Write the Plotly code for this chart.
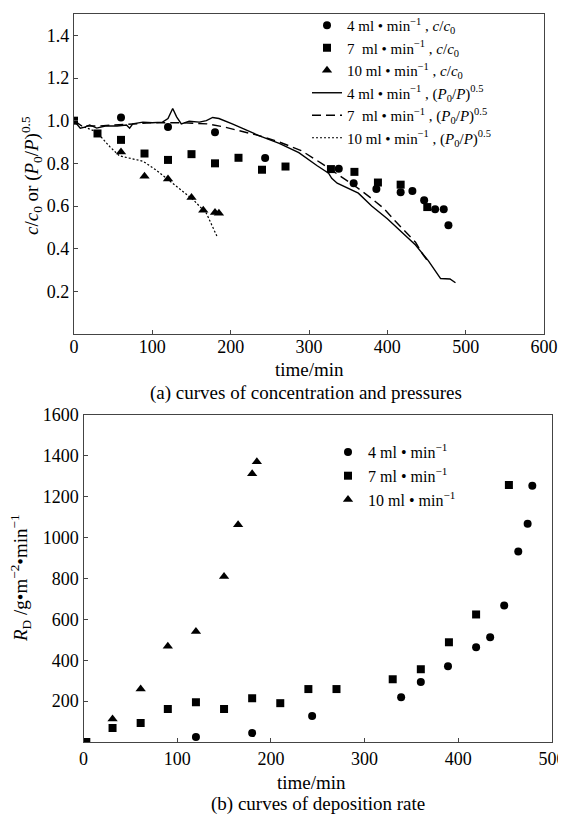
import plotly.graph_objects as go

# ---------------- Panel (a) data ----------------
t_c4 = [60, 120, 180, 244, 338, 357, 386, 417, 432, 447, 461, 472, 478]
c4 = [1.015, 0.97, 0.946, 0.825, 0.775, 0.707, 0.68, 0.665, 0.67, 0.627, 0.585, 0.585, 0.51]

t_c7 = [0, 30, 60, 90, 120, 150, 180, 210, 240, 270, 328, 358, 388, 417, 451]
c7 = [1.0, 0.94, 0.91, 0.846, 0.816, 0.843, 0.80, 0.826, 0.77, 0.785, 0.773, 0.76, 0.71, 0.70, 0.595]

t_c10 = [60, 90, 120, 150, 165, 180, 185]
c10 = [0.853, 0.74, 0.726, 0.64, 0.58, 0.57, 0.566]

t_p4 = [0, 4, 8, 14, 20, 29, 40, 55, 67, 71, 75, 88, 100, 113, 120, 126, 131, 137, 147,
        160, 169, 177, 185, 202, 224, 236, 262, 287, 310, 325, 329, 336, 363, 380, 400,
        420, 436, 452, 468, 480, 487]
p4 = [1.0, 0.98, 0.965, 0.97, 0.98, 0.965, 0.975, 0.975, 0.98, 0.965, 0.985, 0.993, 0.99,
      0.993, 1.01, 1.057, 1.018, 0.985, 0.997, 0.993, 1.0, 1.015, 1.01, 0.985, 0.947, 0.93,
      0.894, 0.85, 0.79, 0.754, 0.73, 0.707, 0.66, 0.60, 0.54, 0.47, 0.417, 0.345, 0.26,
      0.258, 0.24]

t_p7 = [0, 10, 30, 60, 100, 140, 170, 190, 210, 236, 262, 290, 316, 340, 360, 380, 395,
        410, 425, 436, 445, 452]
p7 = [1.0, 0.975, 0.975, 0.98, 0.99, 0.99, 0.985, 0.972, 0.955, 0.93, 0.90, 0.86, 0.80,
      0.74, 0.69, 0.635, 0.59, 0.53, 0.47, 0.43, 0.375, 0.34]

t_p10 = [0, 10, 29, 46, 58, 75, 88, 105, 118, 131, 152, 169, 177, 183]
p10 = [1.0, 0.975, 0.947, 0.877, 0.835, 0.82, 0.81, 0.768, 0.73, 0.69, 0.63, 0.566, 0.50, 0.454]

# ---------------- Panel (b) data ----------------
t_r4 = [120, 180, 244, 339, 360, 389, 419, 434, 449, 464, 474, 479]
r4 = [24, 44, 127, 219, 293, 371, 463, 512, 668, 932, 1068, 1254]

t_r7 = [3, 31, 61, 90, 120, 150, 180, 210, 240, 270, 330, 360, 390, 419, 454]
r7 = [0, 68, 93, 161, 195, 161, 214, 190, 259, 259, 307, 356, 488, 624, 1258]

t_r10 = [31, 61, 90, 120, 150, 165, 180, 185]
r10 = [112, 259, 468, 541, 810, 1063, 1312, 1371]

# tick values
xa_ticks = [0, 100, 200, 300, 400, 500, 600]
ya_ticks = [0.2, 0.4, 0.6, 0.8, 1.0, 1.2, 1.4]
xb_ticks = [0, 100, 200, 300, 400, 500]
yb_ticks = [200, 400, 600, 800, 1000, 1200, 1400, 1600]

FONT = "Liberation Serif"
# the page body has an 8px margin; the figure is sized to fill the rest of the window
OFF = 8
W, H = 566 - OFF, 815 - OFF

def px_x(p):
    return (p - OFF) / W

def px_y(p):
    return 1 - (p - OFF) / H

lab4 = "4 ml \u2022 min<sup>\u22121</sup> , "
lab7 = "7  ml \u2022 min<sup>\u22121</sup> , "
lab10 = "10 ml \u2022 min<sup>\u22121</sup> , "
cc0 = "<i>c</i>/<i>c</i><sub>0</sub>"
pp = "(<i>P</i><sub>0</sub>/<i>P</i>)<sup>0.5</sup>"

fig = go.Figure()
mk = dict(color="black", size=8)

fig.add_trace(go.Scatter(x=t_c4, y=c4, mode="markers", name=lab4 + cc0,
                         marker=dict(symbol="circle", **mk), xaxis="x", yaxis="y", legend="legend"))
fig.add_trace(go.Scatter(x=t_c7, y=c7, mode="markers", name=lab7 + cc0,
                         marker=dict(symbol="square", **mk), xaxis="x", yaxis="y", legend="legend"))
fig.add_trace(go.Scatter(x=t_c10, y=c10, mode="markers", name=lab10 + cc0,
                         marker=dict(symbol="triangle-up", color="black", size=9),
                         xaxis="x", yaxis="y", legend="legend"))
fig.add_trace(go.Scatter(x=t_p4, y=p4, mode="lines", name=lab4 + pp,
                         line=dict(color="black", width=1.4), xaxis="x", yaxis="y", legend="legend"))
fig.add_trace(go.Scatter(x=t_p7, y=p7, mode="lines", name=lab7 + pp,
                         line=dict(color="black", width=1.4, dash="9px,5px"),
                         xaxis="x", yaxis="y", legend="legend"))
fig.add_trace(go.Scatter(x=t_p10, y=p10, mode="lines", name=lab10 + pp,
                         line=dict(color="black", width=1.2, dash="2px,2px"),
                         xaxis="x", yaxis="y", legend="legend"))

fig.add_trace(go.Scatter(x=t_r4, y=r4, mode="markers", name="4 ml \u2022 min<sup>\u22121</sup>",
                         marker=dict(symbol="circle", **mk), xaxis="x2", yaxis="y2", legend="legend2"))
fig.add_trace(go.Scatter(x=t_r7, y=r7, mode="markers", name="7 ml \u2022 min<sup>\u22121</sup>",
                         marker=dict(symbol="square", **mk), xaxis="x2", yaxis="y2", legend="legend2"))
fig.add_trace(go.Scatter(x=t_r10, y=r10, mode="markers", name="10 ml \u2022 min<sup>\u22121</sup>",
                         marker=dict(symbol="triangle-up", color="black", size=9),
                         xaxis="x2", yaxis="y2", legend="legend2"))

axis_common = dict(showline=True, linecolor="#444", linewidth=1.2, mirror=True,
                   ticks="inside", ticklen=4, tickcolor="#444", showgrid=False,
                   zeroline=False, automargin=False,
                   tickfont=dict(family=FONT, size=18, color="black"))

def ann(text, x, y, size=19, angle=0):
    return dict(text=text, x=px_x(x), y=px_y(y), xref="paper", yref="paper",
                showarrow=False, xanchor="center", yanchor="middle", textangle=angle,
                font=dict(family=FONT, size=size, color="black"))

fig.update_layout(
    width=W, height=H, autosize=False,
    margin=dict(l=0, r=0, t=0, b=0, autoexpand=False),
    paper_bgcolor="white", plot_bgcolor="white",
    font=dict(family=FONT, color="black"),
    xaxis=dict(domain=[px_x(74), px_x(544)], range=[0, 600], tickvals=xa_ticks,
               anchor="y", ticklabelstandoff=-4, **axis_common),
    yaxis=dict(domain=[px_y(334), px_y(14)], range=[0, 1.5], tickvals=ya_ticks,
               tickformat=".1f", anchor="x", **axis_common),
    xaxis2=dict(domain=[px_x(83.5), px_x(552)], range=[0, 500], tickvals=xb_ticks,
                anchor="y2", **axis_common),
    yaxis2=dict(domain=[px_y(742), px_y(415)], range=[0, 1600], tickvals=yb_ticks,
                anchor="x2", **axis_common),
    legend=dict(x=px_x(307), y=px_y(9), xanchor="left", yanchor="top",
                bgcolor="rgba(0,0,0,0)", font=dict(family=FONT, size=15),
                itemwidth=30),
    legend2=dict(x=px_x(328), y=px_y(435), xanchor="left", yanchor="top",
                 bgcolor="rgba(0,0,0,0)", font=dict(family=FONT, size=16),
                 itemwidth=30),
    annotations=[
        ann("time/min", 309, 370),
        ann("(a) curves of concentration and pressures", 306, 393),
        ann(cc0 + " or " + pp, 31, 176, angle=-90),
        ann("time/min", 311, 782),
        ann("(b) curves of deposition rate", 318, 804),
        ann("<i>R</i><sub>D</sub> /g\u2022m<sup>\u22122</sup>\u2022min<sup>\u22121</sup>",
            20, 578, angle=-90),
    ],
)

fig.write_html("out.html")
